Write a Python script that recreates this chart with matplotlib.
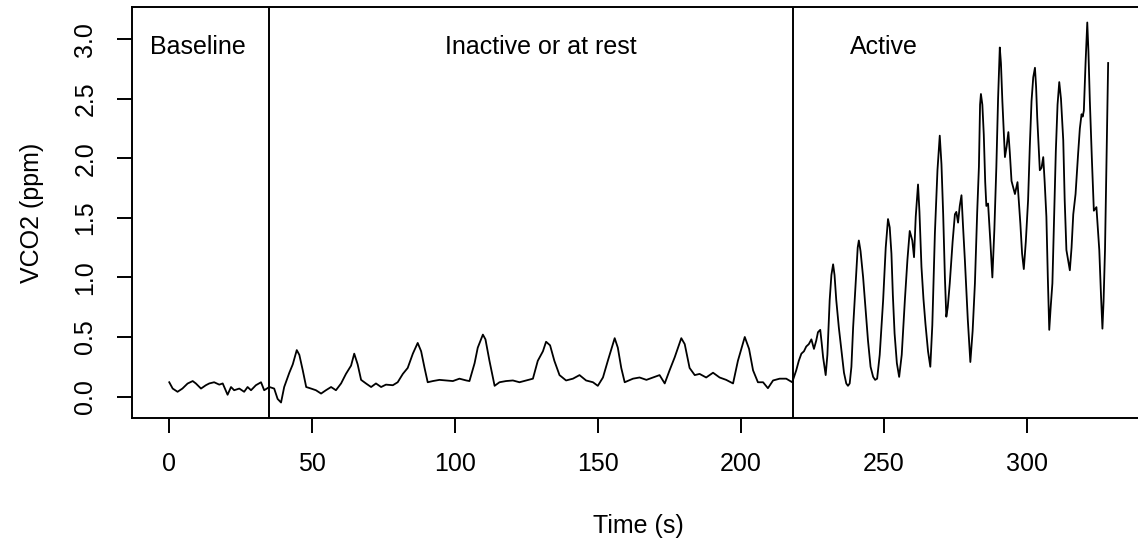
import matplotlib
matplotlib.use("Agg")
import matplotlib.pyplot as plt
from matplotlib.transforms import blended_transform_factory

plt.rcParams['font.family'] = ['Liberation Sans', 'DejaVu Sans']

# ---- data ----
time_s = [0, 1.2, 2.9, 4.6, 6.4, 8.2, 9.3, 11.1, 12.8, 14.0, 15.7, 17.5, 18.7, 20.4,
          21.6, 22.7, 24.5, 26.2, 27.4, 28.6, 30.3, 32.1, 33.2, 35.0, 36.7, 37.9, 39.1,
          40.2, 42.0, 43.2, 44.6, 45.5, 46.7, 47.9, 49.6, 51.3, 53.1, 54.8, 56.6, 58.3,
          60.1, 61.8, 63.6, 64.7, 65.9, 67.1, 68.8, 70.6, 72.3, 74.1, 75.8, 78.2, 79.9,
          81.7, 83.4, 85.2, 86.9, 88.1, 89.3, 90.4, 92.2, 94.5, 96.8, 99.2, 101.5, 103.9,
          105.0, 106.8, 107.9, 109.7, 110.6, 112.0, 113.8, 115.5, 117.8, 120.2, 122.5,
          124.8, 127.2, 128.9, 130.7, 131.8, 133.2, 134.7, 136.5, 138.8, 141.2, 143.5,
          145.8, 148.2, 149.9, 151.7, 153.4, 154.8, 155.8, 156.9, 158.1, 159.3, 162.2,
          164.5, 166.9, 169.2, 171.5, 173.3, 175.0, 176.8, 179.1, 180.3, 182.0, 183.8,
          185.5, 187.8, 190.2, 192.5, 194.8, 197.2, 198.9, 200.1, 201.3, 202.8, 204.2,
          205.9, 207.7, 209.4, 211.2, 213.5, 215.8, 217.9,
          219.3, 220.2, 221.1, 222.0, 222.8, 223.7, 224.6, 225.5, 226.3, 226.9, 227.7,
          228.2, 228.7, 229.6, 230.2, 231.0, 231.6, 232.2, 232.7, 233.3, 234.2, 235.1,
          236.0, 236.8, 237.4, 238.0, 238.6, 239.2, 240.2, 240.8, 241.2, 241.8, 242.7,
          243.5, 244.4, 245.3, 246.2, 246.9, 247.6, 248.5, 249.7, 250.6, 251.4, 252.0,
          252.6, 253.1, 253.7, 254.5, 255.3, 256.2, 257.3, 258.2, 259.0, 259.9, 260.5,
          261.1, 261.9, 262.4, 263.1, 263.8, 264.5, 265.4, 266.2, 266.9, 267.8, 268.7,
          269.5, 270.1, 270.7, 271.3, 271.8, 272.3, 273.0, 274.0, 274.8, 275.3, 275.9,
          276.5, 277.1, 277.6, 278.3, 279.3, 280.2, 281.0, 281.8, 282.6, 283.2, 283.6,
          283.9, 284.4, 284.9, 285.4, 285.8, 286.4, 287.2, 287.9, 288.6, 289.3, 289.9,
          290.5, 290.9, 291.4, 292.3, 292.9, 293.5, 294.0, 294.6, 295.8, 296.7, 297.2,
          297.7, 298.3, 298.9, 299.6, 300.4, 301.0, 301.6, 302.2, 302.8, 303.2, 303.6,
          304.5, 305.1, 305.7, 306.2, 306.8, 307.3, 307.8, 308.3, 308.9, 309.5, 310.1,
          310.7, 311.3, 311.9, 312.7, 313.2, 313.8, 315.0, 315.6, 316.2, 317.0, 317.9,
          318.5, 319.1, 319.5, 319.9, 320.5, 321.1, 321.5, 322.0, 322.7, 323.4, 324.3,
          325.3, 325.9, 326.4, 326.8, 327.3, 327.9, 328.4]
vco2_ppm = [0.12, 0.067, 0.04, 0.067, 0.109, 0.13, 0.11, 0.067, 0.095, 0.11, 0.12, 0.10,
            0.11, 0.015, 0.08, 0.053, 0.067, 0.04, 0.08, 0.053, 0.095, 0.12, 0.053, 0.08,
            0.067, -0.02, -0.05, 0.08, 0.20, 0.27, 0.39, 0.35, 0.22, 0.08, 0.067, 0.053,
            0.025, 0.053, 0.08, 0.053, 0.11, 0.19, 0.26, 0.36, 0.27, 0.14, 0.11, 0.08,
            0.11, 0.08, 0.10, 0.095, 0.12, 0.19, 0.24, 0.36, 0.45, 0.38, 0.24, 0.12, 0.13,
            0.14, 0.135, 0.13, 0.15, 0.135, 0.13, 0.28, 0.41, 0.52, 0.48, 0.30, 0.09, 0.12,
            0.13, 0.135, 0.12, 0.135, 0.15, 0.30, 0.38, 0.46, 0.43, 0.30, 0.18, 0.135,
            0.15, 0.18, 0.135, 0.12, 0.09, 0.16, 0.30, 0.41, 0.49, 0.41, 0.24, 0.12, 0.15,
            0.16, 0.14, 0.16, 0.18, 0.11, 0.22, 0.33, 0.49, 0.44, 0.24, 0.18, 0.19, 0.16,
            0.20, 0.16, 0.14, 0.11, 0.30, 0.40, 0.50, 0.40, 0.22, 0.12, 0.12, 0.07, 0.135,
            0.15, 0.15, 0.12,
            0.22, 0.30, 0.36, 0.38, 0.42, 0.44, 0.48, 0.40, 0.47, 0.54, 0.56,
            0.45, 0.33, 0.18, 0.35, 0.81, 1.02, 1.11, 1.02, 0.81, 0.58, 0.39,
            0.20, 0.11, 0.09, 0.11, 0.25, 0.58, 1.00, 1.25, 1.31, 1.22, 1.00,
            0.75, 0.47, 0.25, 0.165, 0.14, 0.15, 0.35, 0.81, 1.25, 1.49, 1.42,
            1.20, 0.85, 0.53, 0.28, 0.165, 0.35, 0.81, 1.15, 1.39, 1.31, 1.17,
            1.51, 1.78, 1.55, 1.09, 0.82, 0.61, 0.38, 0.25, 0.60, 1.37, 1.90,
            2.19, 1.95, 1.53, 1.00, 0.67, 0.75, 0.95, 1.30, 1.53, 1.55, 1.46,
            1.60, 1.69, 1.45, 1.14, 0.65, 0.29, 0.55, 0.95, 1.55, 1.93, 2.45,
            2.54, 2.45, 2.20, 1.80, 1.60, 1.62, 1.30, 1.00, 1.40, 1.93, 2.50,
            2.93, 2.80, 2.48, 2.01, 2.10, 2.22, 2.05, 1.81, 1.70, 1.80, 1.62,
            1.45, 1.20, 1.07, 1.30, 1.65, 2.10, 2.48, 2.68, 2.76, 2.60, 2.34,
            1.90, 1.92, 2.01, 1.80, 1.51, 1.00, 0.56, 0.75, 0.95, 1.50, 2.06,
            2.45, 2.64, 2.50, 2.15, 1.65, 1.23, 1.06, 1.25, 1.53, 1.70, 2.04,
            2.25, 2.37, 2.35, 2.40, 2.80, 3.14, 2.90, 2.48, 2.00, 1.56, 1.59,
            1.23, 0.85, 0.57, 0.80, 1.23, 2.10, 2.80]
phase_bounds = [35, 218]
phase_labels = ["Baseline", "Inactive or at rest", "Active"]
phase_label_x = [10, 130, 250]
x_ticks = [0, 50, 100, 150, 200, 250, 300]
y_ticks = [0.0, 0.5, 1.0, 1.5, 2.0, 2.5, 3.0]

W, H = 1138, 546
fig = plt.figure(figsize=(W / 100, H / 100), dpi=100)

# R-style 4% axis extension
xmin, xmax = min(time_s), max(time_s)
ymin, ymax = min(vco2_ppm), max(vco2_ppm)
xr, yr = xmax - xmin, ymax - ymin
xlim = (xmin - 0.04 * xr, xmax + 0.04 * xr)
ylim = (ymin - 0.04 * yr, ymax + 0.04 * yr)

left_px, right_px, top_px, bot_px = 131.7, 1145.7, 7.3, 417.7
ax = fig.add_axes([left_px / W, 1 - bot_px / H, (right_px - left_px) / W, (bot_px - top_px) / H])

ax.plot(time_s, vco2_ppm, color='black', lw=1.3)
for b in phase_bounds:
    ax.axvline(b, color='black', lw=1.4)
for lab, lx in zip(phase_labels, phase_label_x):
    ax.text(lx, 2.875, lab, ha='center', va='baseline', fontsize=18)

ax.set_xlim(*xlim)
ax.set_ylim(*ylim)
ax.set_xticks(x_ticks)
ax.set_xticklabels([str(v) for v in x_ticks])
ax.set_yticks(y_ticks)
ax.set_yticklabels([f"{v:.1f}" for v in y_ticks])

for s in ax.spines.values():
    s.set_linewidth(1.4)
ax.tick_params(axis='both', direction='out', length=10.8, width=1.4, labelsize=18)
ax.tick_params(axis='x', pad=14)
ax.tick_params(axis='y', pad=14, labelrotation=90)
for t in ax.get_yticklabels():
    t.set_va('center')

ax.set_xlabel("Time (s)", fontsize=18)
ax.set_ylabel("VCO2 (ppm)", fontsize=18)
ax.xaxis.set_label_coords(0.5, 1 - 514 / H, transform=blended_transform_factory(ax.transAxes, fig.transFigure))
ax.yaxis.set_label_coords(44 / W, 0.5, transform=blended_transform_factory(fig.transFigure, ax.transAxes))

fig.savefig("out.png", dpi=100)
